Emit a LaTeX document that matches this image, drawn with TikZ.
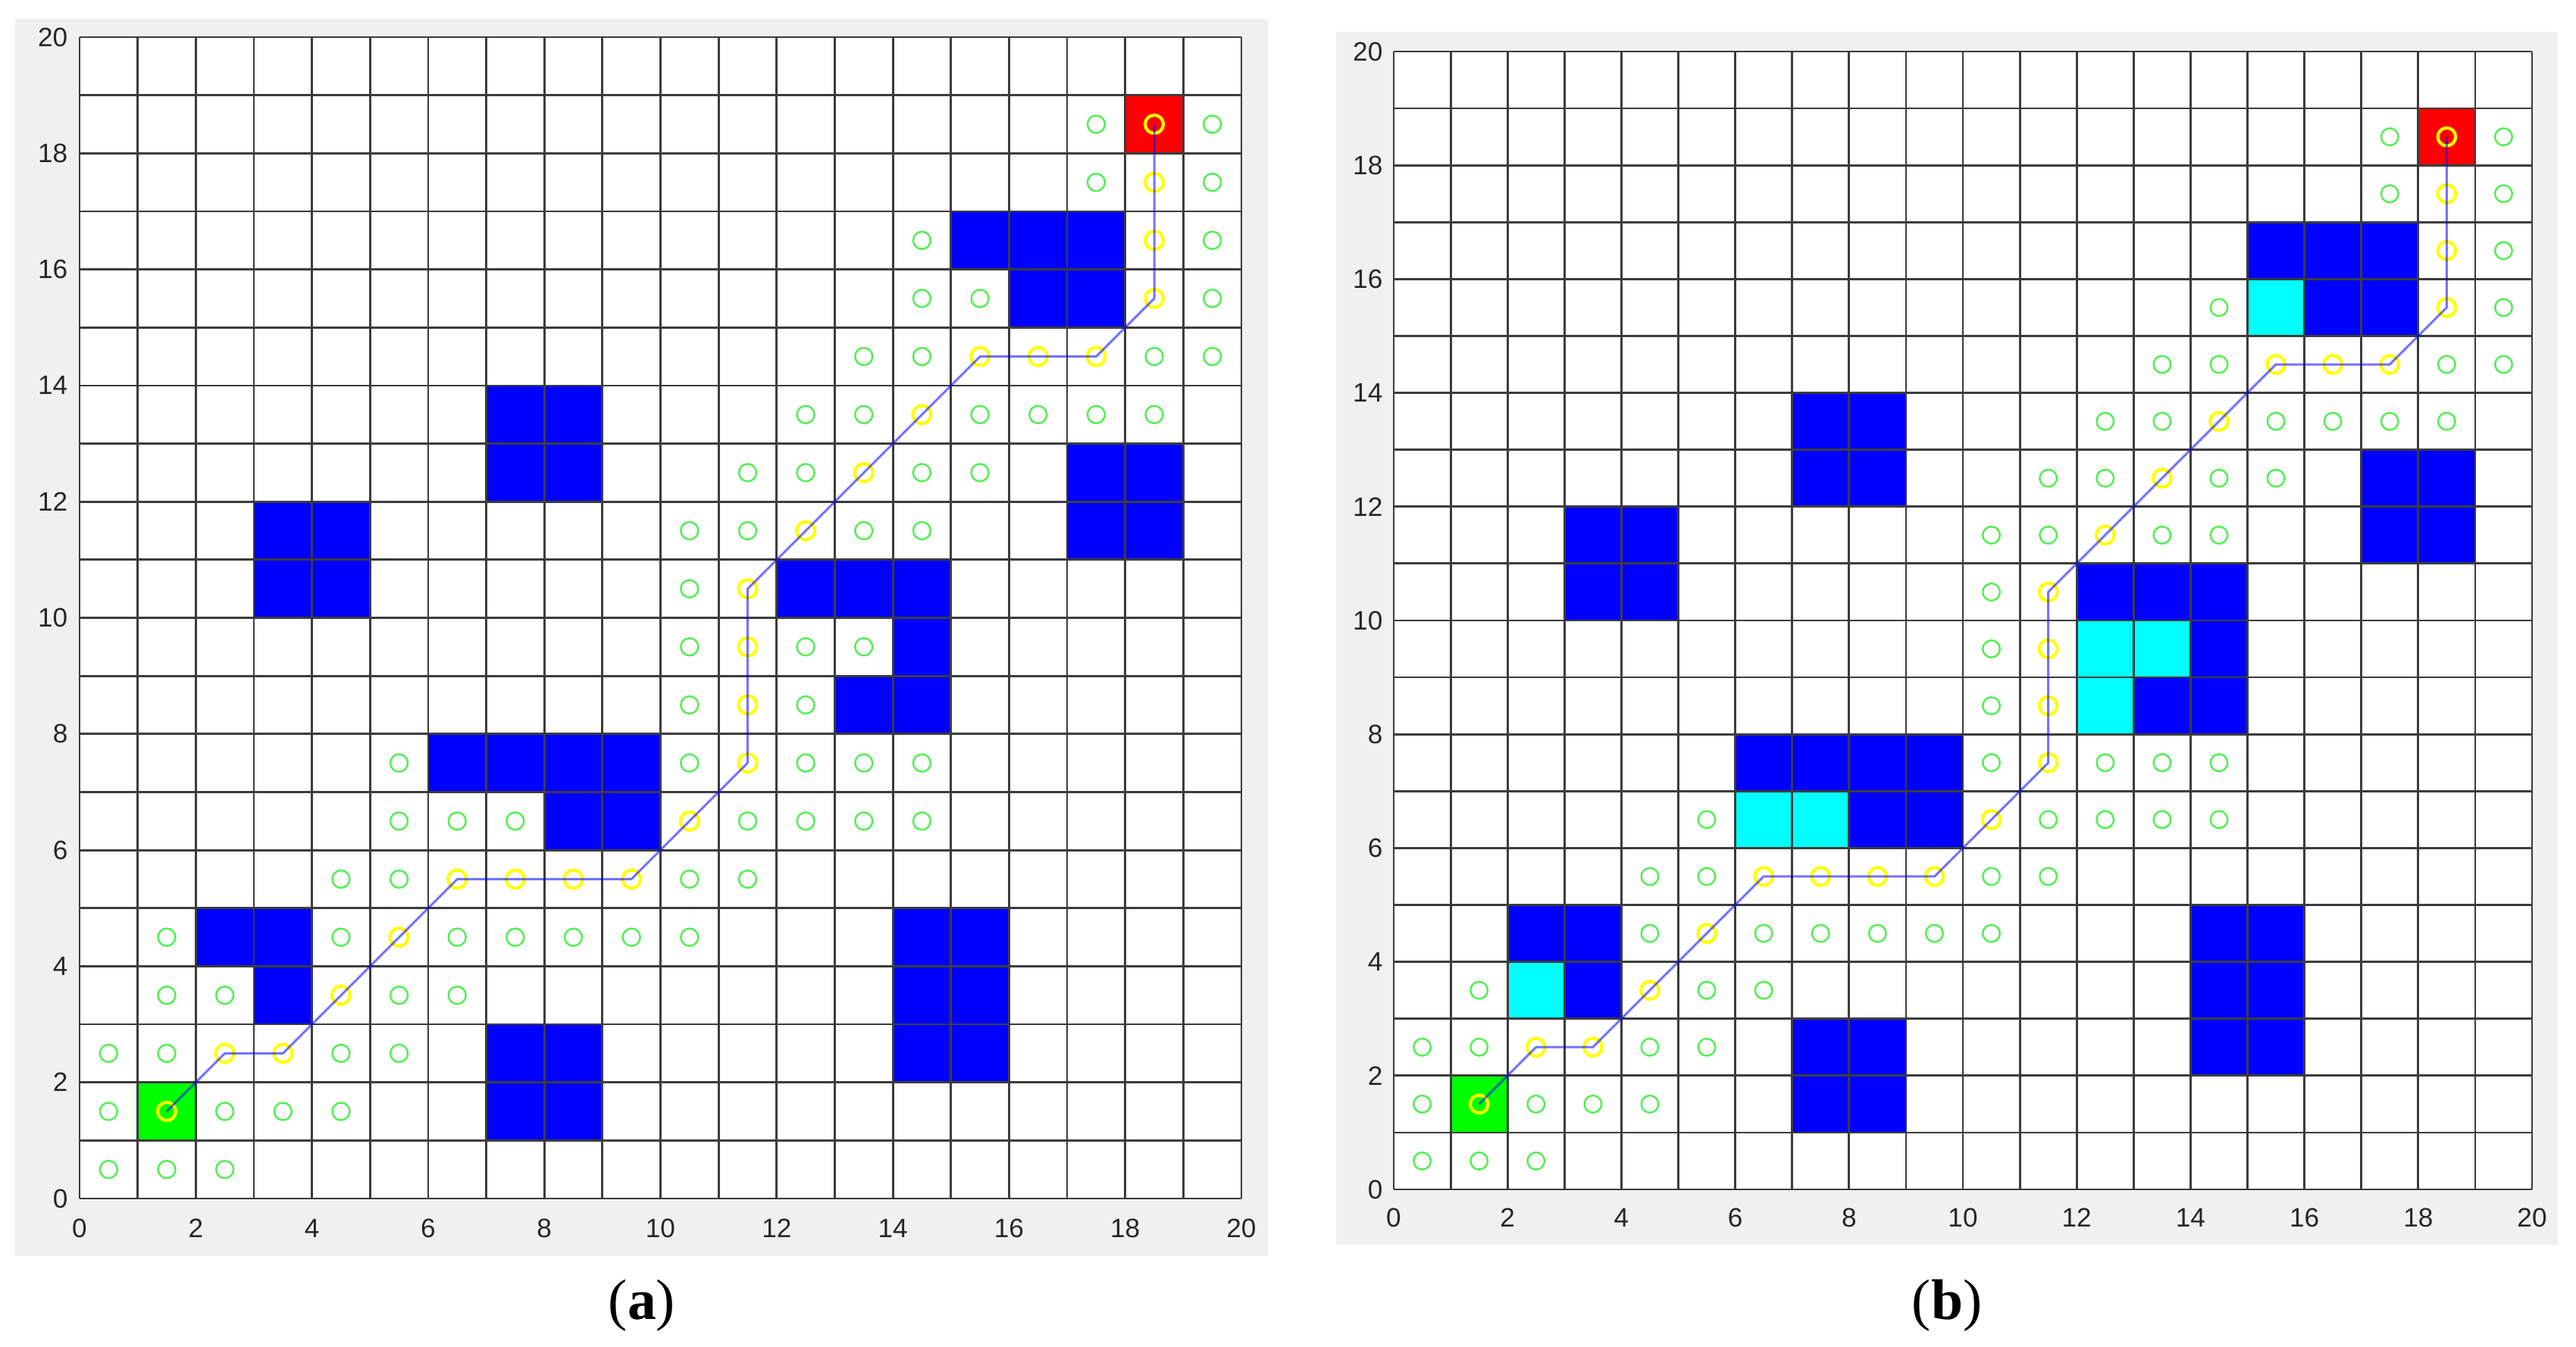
\documentclass[tikz,border=0pt]{standalone}
\usepackage{fontspec}
\setmainfont{Liberation Serif}
\newfontfamily\axfont{Liberation Sans}
\definecolor{panelbg}{HTML}{F0F0F0}
\definecolor{obst}{HTML}{0000FF}
\definecolor{newobst}{HTML}{00FFFF}
\definecolor{startc}{HTML}{00FF00}
\definecolor{goalc}{HTML}{FF0000}
\definecolor{opengreen}{RGB}{80,240,80}
\definecolor{pathyellow}{HTML}{FFFF00}
\definecolor{gridc}{HTML}{3C3C3C}
\definecolor{tickc}{HTML}{262626}
\tikzset{
  bgbox/.style={fill=panelbg, draw=none},
  plotarea/.style={fill=white, draw=none},
  gridline/.style={draw=gridc, line width=0.028cm},
  opencirc/.style={draw=opengreen, line width=0.024cm},
  pathcirc/.style={draw=pathyellow, line width=0.042cm},
  pathline/.style={draw=blue, draw opacity=0.55, line width=0.03cm, line join=round},
  ticklab/.style={font=\axfont\fontsize{10pt}{12pt}\selectfont, text=tickc, inner sep=0pt},
  panlab/.style={font=\fontsize{21.5pt}{24pt}\selectfont, inner sep=0pt}
}
\def\bluecells{15/16,16/16,17/16,16/15,17/15,17/12,18/12,17/11,18/11,7/13,8/13,7/12,8/12,3/11,4/11,3/10,4/10,12/10,13/10,14/10,14/9,13/8,14/8,6/7,7/7,8/7,9/7,8/6,9/6,2/4,3/4,3/3,14/4,15/4,14/3,15/3,14/2,15/2,7/2,8/2,7/1,8/1}
\def\pathcells{1/1,2/2,3/2,4/3,5/4,6/5,7/5,8/5,9/5,10/6,11/7,11/8,11/9,11/10,12/11,13/12,14/13,15/14,16/14,17/14,18/15,18/16,18/17,18/18}
\def\openA{17/18,19/18,17/17,19/17,14/16,19/16,14/15,15/15,19/15,13/14,14/14,18/14,19/14,12/13,13/13,15/13,16/13,17/13,18/13,11/12,12/12,14/12,15/12,10/11,11/11,13/11,14/11,10/10,10/9,12/9,13/9,10/8,12/8,5/7,10/7,12/7,13/7,14/7,5/6,6/6,7/6,11/6,12/6,13/6,14/6,4/5,5/5,10/5,11/5,1/4,4/4,6/4,7/4,8/4,9/4,10/4,1/3,2/3,5/3,6/3,0/2,1/2,4/2,5/2,0/1,2/1,3/1,4/1,0/0,1/0,2/0}
\def\openB{17/18,19/18,17/17,19/17,19/16,14/15,19/15,13/14,14/14,18/14,19/14,12/13,13/13,15/13,16/13,17/13,18/13,11/12,12/12,14/12,15/12,10/11,11/11,13/11,14/11,10/10,10/9,10/8,10/7,12/7,13/7,14/7,5/6,11/6,12/6,13/6,14/6,4/5,5/5,10/5,11/5,4/4,6/4,7/4,8/4,9/4,10/4,1/3,5/3,6/3,0/2,1/2,4/2,5/2,0/1,2/1,3/1,4/1,0/0,1/0,2/0}
\def\cyancells{15/15,12/9,13/9,12/8,6/6,7/6,2/3}
\begin{document}
\begin{tikzpicture}
\useasboundingbox (0,0) rectangle (33.99,17.77);
\fill[white] (0,0) rectangle (33.99,17.77);
% ---------- panel (a) ----------
\fill[bgbox] (0.20,1.19) rectangle (16.73,17.52);
\begin{scope}[shift={(1.05,1.95)}, x=0.7665cm, y=0.7665cm]
  \fill[plotarea] (0,0) rectangle (20,20);
  \foreach \x/\y in \bluecells {\fill[obst] (\x,\y) rectangle ++(1,1);}
  \fill[startc] (1,1) rectangle ++(1,1);
  \fill[goalc] (18,18) rectangle ++(1,1);
  \foreach \k in {0,...,20} {\draw[gridline] (\k,0) -- (\k,20); \draw[gridline] (0,\k) -- (20,\k);}
  \foreach \x/\y in \openA {\draw[opencirc] (\x+0.5,\y+0.5) circle[radius=0.115cm];}
  \foreach \x/\y [count=\i] in \pathcells {\coordinate (pa\i) at (\x+0.5,\y+0.5); \draw[pathcirc] (pa\i) circle[radius=0.12cm];}
  \draw[pathline] (pa1) \foreach \i in {2,...,24} { -- (pa\i) };
  \foreach \k in {0,2,...,20} {
    \node[ticklab] (axa\k) at ([yshift=-0.39cm]\k,0) {\k};
    \node[ticklab, anchor=east] (aya\k) at ([xshift=-0.15cm]0,\k) {\k};
  }
\end{scope}
\node[panlab] (laba) at (8.47,0.54) {(\textbf{a})};
% ---------- panel (b) ----------
\fill[bgbox] (17.63,1.34) rectangle (33.75,17.35);
\begin{scope}[shift={(18.39,2.07)}, x=0.751cm, y=0.751cm]
  \fill[plotarea] (0,0) rectangle (20,20);
  \foreach \x/\y in \bluecells {\fill[obst] (\x,\y) rectangle ++(1,1);}
  \foreach \x/\y in \cyancells {\fill[newobst] (\x,\y) rectangle ++(1,1);}
  \fill[startc] (1,1) rectangle ++(1,1);
  \fill[goalc] (18,18) rectangle ++(1,1);
  \foreach \k in {0,...,20} {\draw[gridline] (\k,0) -- (\k,20); \draw[gridline] (0,\k) -- (20,\k);}
  \foreach \x/\y in \openB {\draw[opencirc] (\x+0.5,\y+0.5) circle[radius=0.113cm];}
  \foreach \x/\y [count=\i] in \pathcells {\coordinate (pb\i) at (\x+0.5,\y+0.5); \draw[pathcirc] (pb\i) circle[radius=0.118cm];}
  \draw[pathline] (pb1) \foreach \i in {2,...,24} { -- (pb\i) };
  \foreach \k in {0,2,...,20} {
    \node[ticklab] (axb\k) at ([yshift=-0.37cm]\k,0) {\k};
    \node[ticklab, anchor=east] (ayb\k) at ([xshift=-0.14cm]0,\k) {\k};
  }
\end{scope}
\node[panlab] (labb) at (25.69,0.54) {(\textbf{b})};
\end{tikzpicture}
\end{document}
